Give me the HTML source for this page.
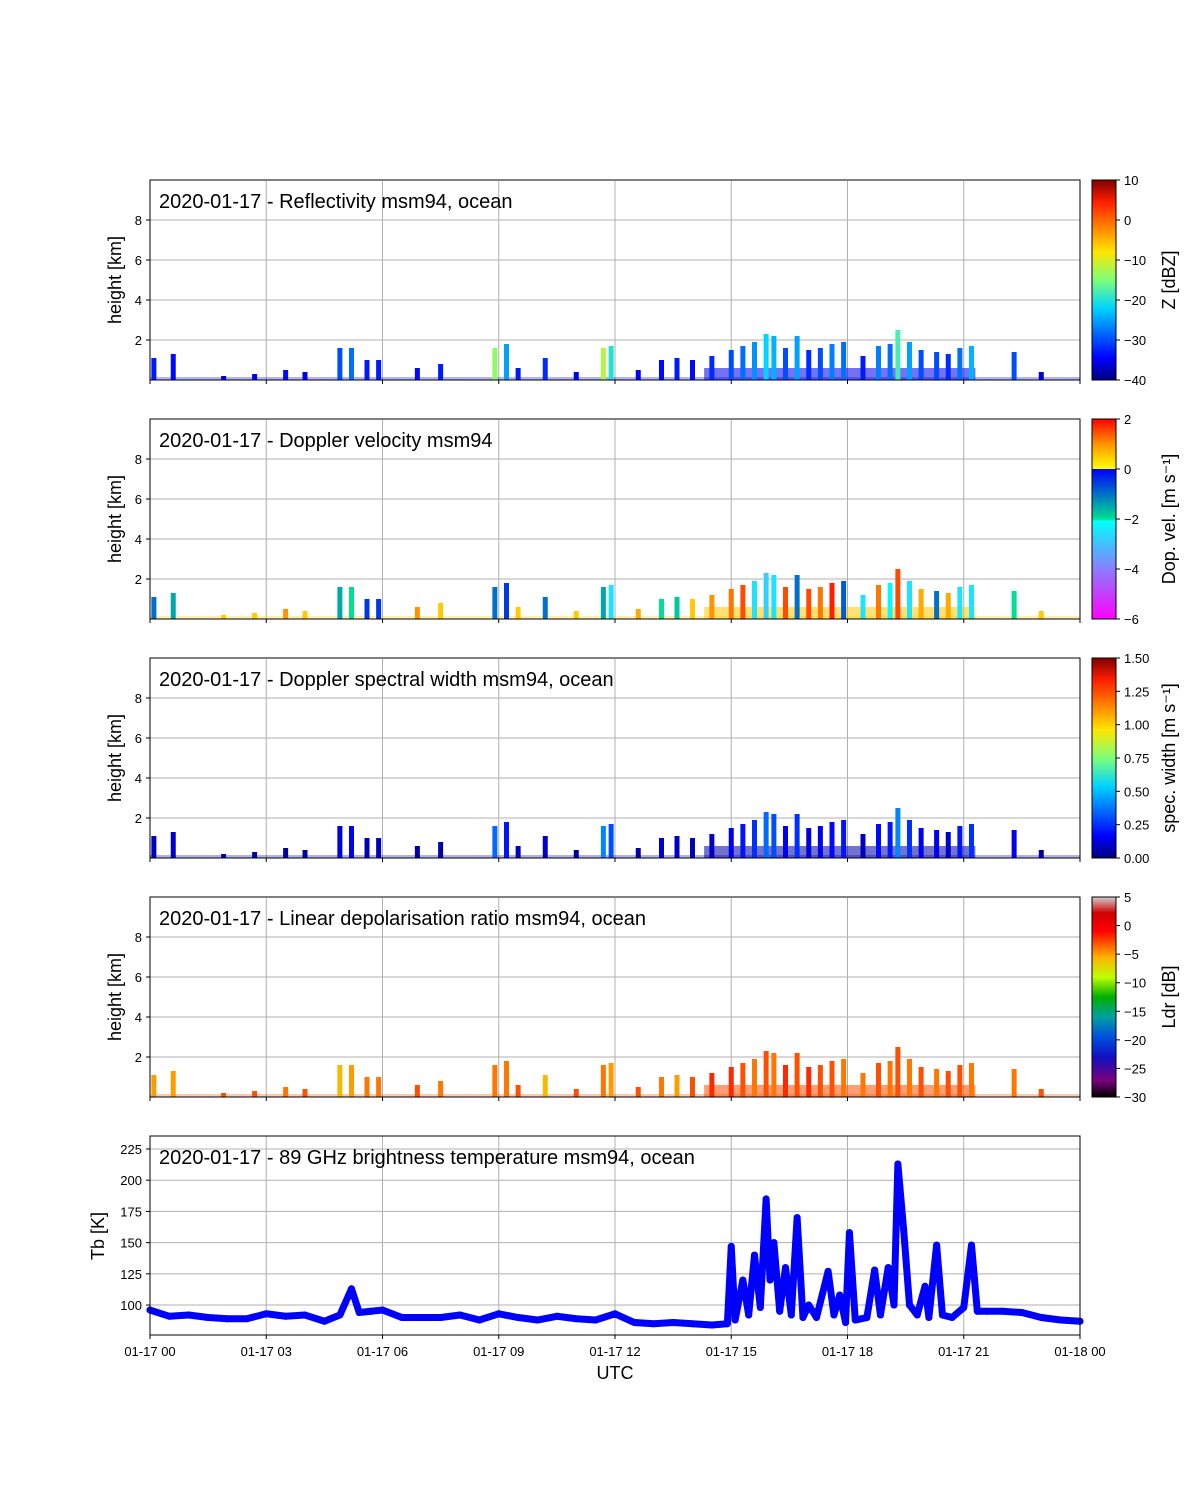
<!DOCTYPE html>
<html><head><meta charset="utf-8"><style>
body{margin:0;background:#fff}
svg{display:block;font-family:"Liberation Sans","DejaVu Sans",sans-serif}
</style></head><body>
<svg id="fig" width="1200" height="1500" viewBox="0 0 1200 1500" xmlns="http://www.w3.org/2000/svg">
<defs>
<linearGradient id="g-jet" x1="0" y1="1" x2="0" y2="0">
<stop offset="0" stop-color="#00007f"/><stop offset="0.11" stop-color="#0000ff"/><stop offset="0.36" stop-color="#00d4ff"/><stop offset="0.5" stop-color="#7dff7a"/><stop offset="0.64" stop-color="#ffe600"/><stop offset="0.89" stop-color="#ff1e00"/><stop offset="1" stop-color="#7f0000"/>
</linearGradient>
<linearGradient id="g-vel" x1="0" y1="1" x2="0" y2="0">
<stop offset="0" stop-color="#ff00ff"/><stop offset="0.25" stop-color="#8a7dff"/><stop offset="0.49" stop-color="#00ffff"/><stop offset="0.5" stop-color="#00e090"/><stop offset="0.75" stop-color="#0000ff"/><stop offset="0.75" stop-color="#ffff00"/><stop offset="0.87" stop-color="#ff9900"/><stop offset="1" stop-color="#ff0000"/>
</linearGradient>
<linearGradient id="g-ldr" x1="0" y1="1" x2="0" y2="0">
<stop offset="0" stop-color="#000000"/><stop offset="0.08" stop-color="#7a007a"/><stop offset="0.2" stop-color="#1010c0"/><stop offset="0.3" stop-color="#0050e0"/><stop offset="0.4" stop-color="#00a0a0"/><stop offset="0.5" stop-color="#00b000"/><stop offset="0.6" stop-color="#c0ff00"/><stop offset="0.7" stop-color="#ffb000"/><stop offset="0.83" stop-color="#ff0000"/><stop offset="0.92" stop-color="#d00000"/><stop offset="1" stop-color="#d0d0d0"/>
</linearGradient>
</defs>
</svg>
<script>
// ---- data ----
const hourTicks = [0,3,6,9,12,15,18,21,24];
const hourTickLabels = ["01-17 00","01-17 03","01-17 06","01-17 09","01-17 12","01-17 15","01-17 18","01-17 21","01-18 00"];
const heightTicks = [2,4,6,8];
const cloudTimes = [0.1,0.6,1.9,2.7,3.5,4.0,4.9,5.2,5.6,5.9,6.9,7.5,8.9,9.2,9.5,10.2,11.0,11.7,11.9,12.6,13.2,13.6,14.0,14.5,15.0,15.3,15.6,15.9,16.1,16.4,16.7,17.0,17.3,17.6,17.9,18.4,18.8,19.1,19.3,19.6,19.9,20.3,20.6,20.9,21.2,22.3,23.0];
const cloudTops  = [1.1,1.3,0.2,0.3,0.5,0.4,1.6,1.6,1.0,1.0,0.6,0.8,1.6,1.8,0.6,1.1,0.4,1.6,1.7,0.5,1.0,1.1,1.0,1.2,1.5,1.7,1.9,2.3,2.2,1.6,2.2,1.5,1.6,1.8,1.9,1.2,1.7,1.8,2.5,1.9,1.5,1.4,1.3,1.6,1.7,1.4,0.4];
const cloudZ     = [-33,-34,-36,-35,-34,-35,-30,-28,-33,-33,-34,-33,-14,-25,-33,-32,-35,-12,-20,-35,-34,-33,-34,-32,-30,-28,-26,-22,-24,-30,-25,-32,-30,-27,-28,-33,-27,-28,-18,-25,-30,-30,-32,-28,-24,-30,-36];
const cloudVel   = [-1,-1.5,0.5,0.5,1,0.5,-1.5,-2,-0.5,-0.5,1,0.5,-1,-0.5,0.5,-1,0.5,-1.5,-2.5,0.8,-2,-1.8,0.5,1,1.2,1.5,-2.5,-2.8,-2.5,1.5,-1,1.5,1.2,1.8,-0.8,-2.5,1.2,-2.2,1.5,-2.5,0.8,-1,0.8,-2.5,-2.5,-2,0.5];
const cloudWidth = [0.08,0.1,0.05,0.05,0.05,0.05,0.12,0.15,0.08,0.08,0.05,0.06,0.35,0.2,0.08,0.1,0.05,0.4,0.3,0.05,0.1,0.1,0.08,0.1,0.15,0.2,0.25,0.35,0.3,0.15,0.25,0.12,0.15,0.18,0.2,0.08,0.18,0.2,0.4,0.25,0.15,0.15,0.1,0.2,0.25,0.15,0.05];
const cloudLdr   = [-5,-5,-3,-3,-4,-3,-6,-5,-4,-4,-3,-4,-4,-4,-3,-6,-3,-4,-5,-3,-4,-5,-3,-2,-2,-3,-4,-3,-4,-2,-3,-2,-3,-3,-4,-4,-3,-4,-3,-4,-3,-4,-3,-3,-4,-4,-3];
const lowStart = [0,14.3];
const lowEnd   = [24,21.3];
const lowTop   = [0.15,0.6];
const tbTimes  = [0,0.5,1,1.5,2,2.5,3,3.5,4,4.5,4.9,5.2,5.4,5.7,6,6.5,7,7.5,8,8.5,9,9.5,10,10.5,11,11.5,12,12.5,13,13.5,14,14.5,14.9,15.0,15.1,15.3,15.45,15.6,15.75,15.9,16.0,16.1,16.25,16.4,16.55,16.7,16.85,17.0,17.2,17.5,17.65,17.8,17.95,18.05,18.2,18.5,18.7,18.85,19.05,19.2,19.3,19.45,19.6,19.8,20.0,20.1,20.3,20.45,20.7,21.0,21.2,21.35,21.6,22,22.5,23,23.5,24];
const tbValues = [96,91,92,90,89,89,93,91,92,87,92,113,94,95,96,90,90,90,92,88,93,90,88,91,89,88,93,86,85,86,85,84,85,147,88,120,92,140,98,185,120,150,95,130,92,170,90,100,90,127,92,108,86,158,88,90,128,92,130,100,213,160,100,92,115,90,148,92,90,98,148,95,95,95,94,90,88,87];
const tbTicks = [100,125,150,175,200,225];

// ---- layout ----
const NS="http://www.w3.org/2000/svg";
const svg=document.getElementById('fig');
const X0=150,X1=1080;
const xs=h=>X0+(X1-X0)*h/24;
function el(tag,attrs,parent){const e=document.createElementNS(NS,tag);for(const k in attrs)e.setAttribute(k,attrs[k]);(parent||svg).appendChild(e);return e;}
function txt(s,attrs,parent){const e=el('text',attrs,parent);e.textContent=s;return e;}
function lerp(a,b,t){return a+(b-a)*t;}
function cmap(stops,t){t=Math.max(0,Math.min(1,t));for(let i=1;i<stops.length;i++){if(t<=stops[i][0]){const a=stops[i-1],b=stops[i];const u=(t-a[0])/((b[0]-a[0])||1);return 'rgb('+[1,2,3].map(j=>Math.round(lerp(a[j],b[j],u))).join(',')+')';}}const l=stops[stops.length-1];return 'rgb('+l[1]+','+l[2]+','+l[3]+')';}
const jet=[[0,0,0,127],[0.11,0,0,255],[0.36,0,212,255],[0.5,125,255,122],[0.64,255,230,0],[0.89,255,30,0],[1,127,0,0]];
const velc=[[0,255,0,255],[0.25,138,125,255],[0.49,0,255,255],[0.5,0,224,144],[0.7499,0,0,255],[0.75,255,255,0],[0.87,255,153,0],[1,255,0,0]];
const ldrc=[[0,0,0,0],[0.08,122,0,122],[0.2,16,16,192],[0.3,0,80,224],[0.4,0,160,160],[0.5,0,176,0],[0.6,192,255,0],[0.7,255,176,0],[0.83,255,0,0],[0.92,208,0,0],[1,208,208,208]];

const panels=[
 {top:180,title:'2020-01-17 - Reflectivity msm94, ocean',vals:cloudZ,min:-40,max:10,cm:jet,grad:'g-jet',cbt:[-40,-30,-20,-10,0,10],cbl:['\u221240','\u221230','\u221220','\u221210','0','10'],lab:'Z [dBZ]',name:'reflectivity',low:-35},
 {top:419,title:'2020-01-17 - Doppler velocity msm94',vals:cloudVel,min:-6,max:2,cm:velc,grad:'g-vel',cbt:[-6,-4,-2,0,2],cbl:['\u22126','\u22124','\u22122','0','2'],lab:'Dop. vel. [m s\u207B\u00B9]',name:'doppler-velocity',low:0.5},
 {top:658,title:'2020-01-17 - Doppler spectral width msm94, ocean',vals:cloudWidth,min:0,max:1.5,cm:jet,grad:'g-jet',cbt:[0,0.25,0.5,0.75,1,1.25,1.5],cbl:['0.00','0.25','0.50','0.75','1.00','1.25','1.50'],lab:'spec. width [m s\u207B\u00B9]',name:'spectral-width',low:0.05},
 {top:897,title:'2020-01-17 - Linear depolarisation ratio msm94, ocean',vals:cloudLdr,min:-30,max:5,cm:ldrc,grad:'g-ldr',cbt:[-30,-25,-20,-15,-10,-5,0,5],cbl:['\u221230','\u221225','\u221220','\u221215','\u221210','\u22125','0','5'],lab:'Ldr [dB]',name:'ldr',low:-3}
];
const PH=199;

function xaxis(g,bottom,labels){
  hourTicks.forEach((h,i)=>{
    const gl=el('line',{x1:xs(h),x2:xs(h),y1:bottom-PH,y2:bottom,stroke:'#b0b0b0','stroke-width':1},g);
    
    el('line',{x1:xs(h),x2:xs(h),y1:bottom,y2:bottom+4,stroke:'#000'},g);
    if(labels){const t=txt(hourTickLabels[i],{x:xs(h),y:bottom+21,'font-size':13,'text-anchor':'middle'},g);
      }
  });
}

panels.forEach(p=>{
  const g=el('g',{});
  
  
  const bottom=p.top+PH+1;
  const ys=k=>bottom-(bottom-p.top)*k/10;
  heightTicks.forEach(k=>{
    el('line',{x1:X0,x2:X1,y1:ys(k),y2:ys(k),stroke:'#b0b0b0'},g);
    el('line',{x1:X0-4,x2:X0,y1:ys(k),y2:ys(k),stroke:'#000'},g);
    const t=txt(String(k),{x:X0-8,y:ys(k)+5,'font-size':13,'text-anchor':'end'},g);
    
  });
  xaxis(g,bottom,false);
  const t0=(p.low-p.min)/(p.max-p.min);
  lowStart.forEach((s,i)=>{
    const r=el('rect',{x:xs(s),y:ys(lowTop[i]),width:xs(lowEnd[i])-xs(s),height:bottom-ys(lowTop[i]),fill:cmap(p.cm,t0),opacity:i?0.55:0.3},g);
    
  });
  cloudTimes.forEach((h,i)=>{
    const v=(p.vals[i]-p.min)/(p.max-p.min);
    const r=el('rect',{x:xs(h)-2.5,y:ys(cloudTops[i]),width:5,height:bottom-ys(cloudTops[i]),fill:cmap(p.cm,v)},g);
    
  });
  el('rect',{x:X0,y:p.top,width:X1-X0,height:PH+1,fill:'none',stroke:'#000'},g);
  const tt=txt(p.title,{x:159,y:p.top+28,'font-size':20},g);
  
  const yl=txt('height [km]',{x:0,y:0,'font-size':18,'text-anchor':'middle',transform:`translate(121,${p.top+100}) rotate(-90)`},g);
  
  // colorbar
  const cb=el('g',{},g);
  
  
  el('rect',{x:1092,y:p.top,width:24,height:PH+1,fill:`url(#${p.grad})`,stroke:'#000'},cb);
  p.cbt.forEach((v,i)=>{
    const y=bottom-(bottom-p.top)*(v-p.min)/(p.max-p.min);
    el('line',{x1:1116,x2:1120,y1:y,y2:y,stroke:'#000'},cb);
    txt(p.cbl[i],{x:1124,y:y+5,'font-size':13},cb);
  });
  const cl=txt(p.lab,{x:0,y:0,'font-size':18,'text-anchor':'middle',transform:`translate(1175,${p.top+100}) rotate(-90)`},cb);
  
});

// Tb panel
(function(){
  const top=1136,bottom=1335,tmin=76,tmax=235.4;
  const ys=v=>bottom-(bottom-top)*(v-tmin)/(tmax-tmin);
  const g=el('g',{});
  
  
  tbTicks.forEach(v=>{
    el('line',{x1:X0,x2:X1,y1:ys(v),y2:ys(v),stroke:'#b0b0b0'},g);
    el('line',{x1:X0-4,x2:X0,y1:ys(v),y2:ys(v),stroke:'#000'},g);
    const t=txt(String(v),{x:X0-8,y:ys(v)+5,'font-size':13,'text-anchor':'end'},g);
    
  });
  xaxis(g,bottom,true);
  const pts=tbTimes.map((h,i)=>xs(h)+','+ys(tbValues[i])).join(' ');
  const pl=el('polyline',{points:pts,fill:'none',stroke:'#0000ff','stroke-width':7,'stroke-linejoin':'round','stroke-linecap':'round'},g);
  
  tbTimes.forEach((h,i)=>{
    const c=el('circle',{cx:xs(h),cy:ys(tbValues[i]),r:3.5,fill:'#0000ff'},g);
    
  });
  el('rect',{x:X0,y:top,width:X1-X0,height:bottom-top,fill:'none',stroke:'#000'},g);
  const tt=txt('2020-01-17 - 89 GHz brightness temperature msm94, ocean',{x:159,y:top+28,'font-size':20},g);
  
  const yl=txt('Tb [K]',{x:0,y:0,'font-size':18,'text-anchor':'middle',transform:`translate(104,1236) rotate(-90)`},g);
  
  const xl=txt('UTC',{x:615,y:1379,'font-size':18,'text-anchor':'middle'},g);
  
})();
</script>
</body></html>
